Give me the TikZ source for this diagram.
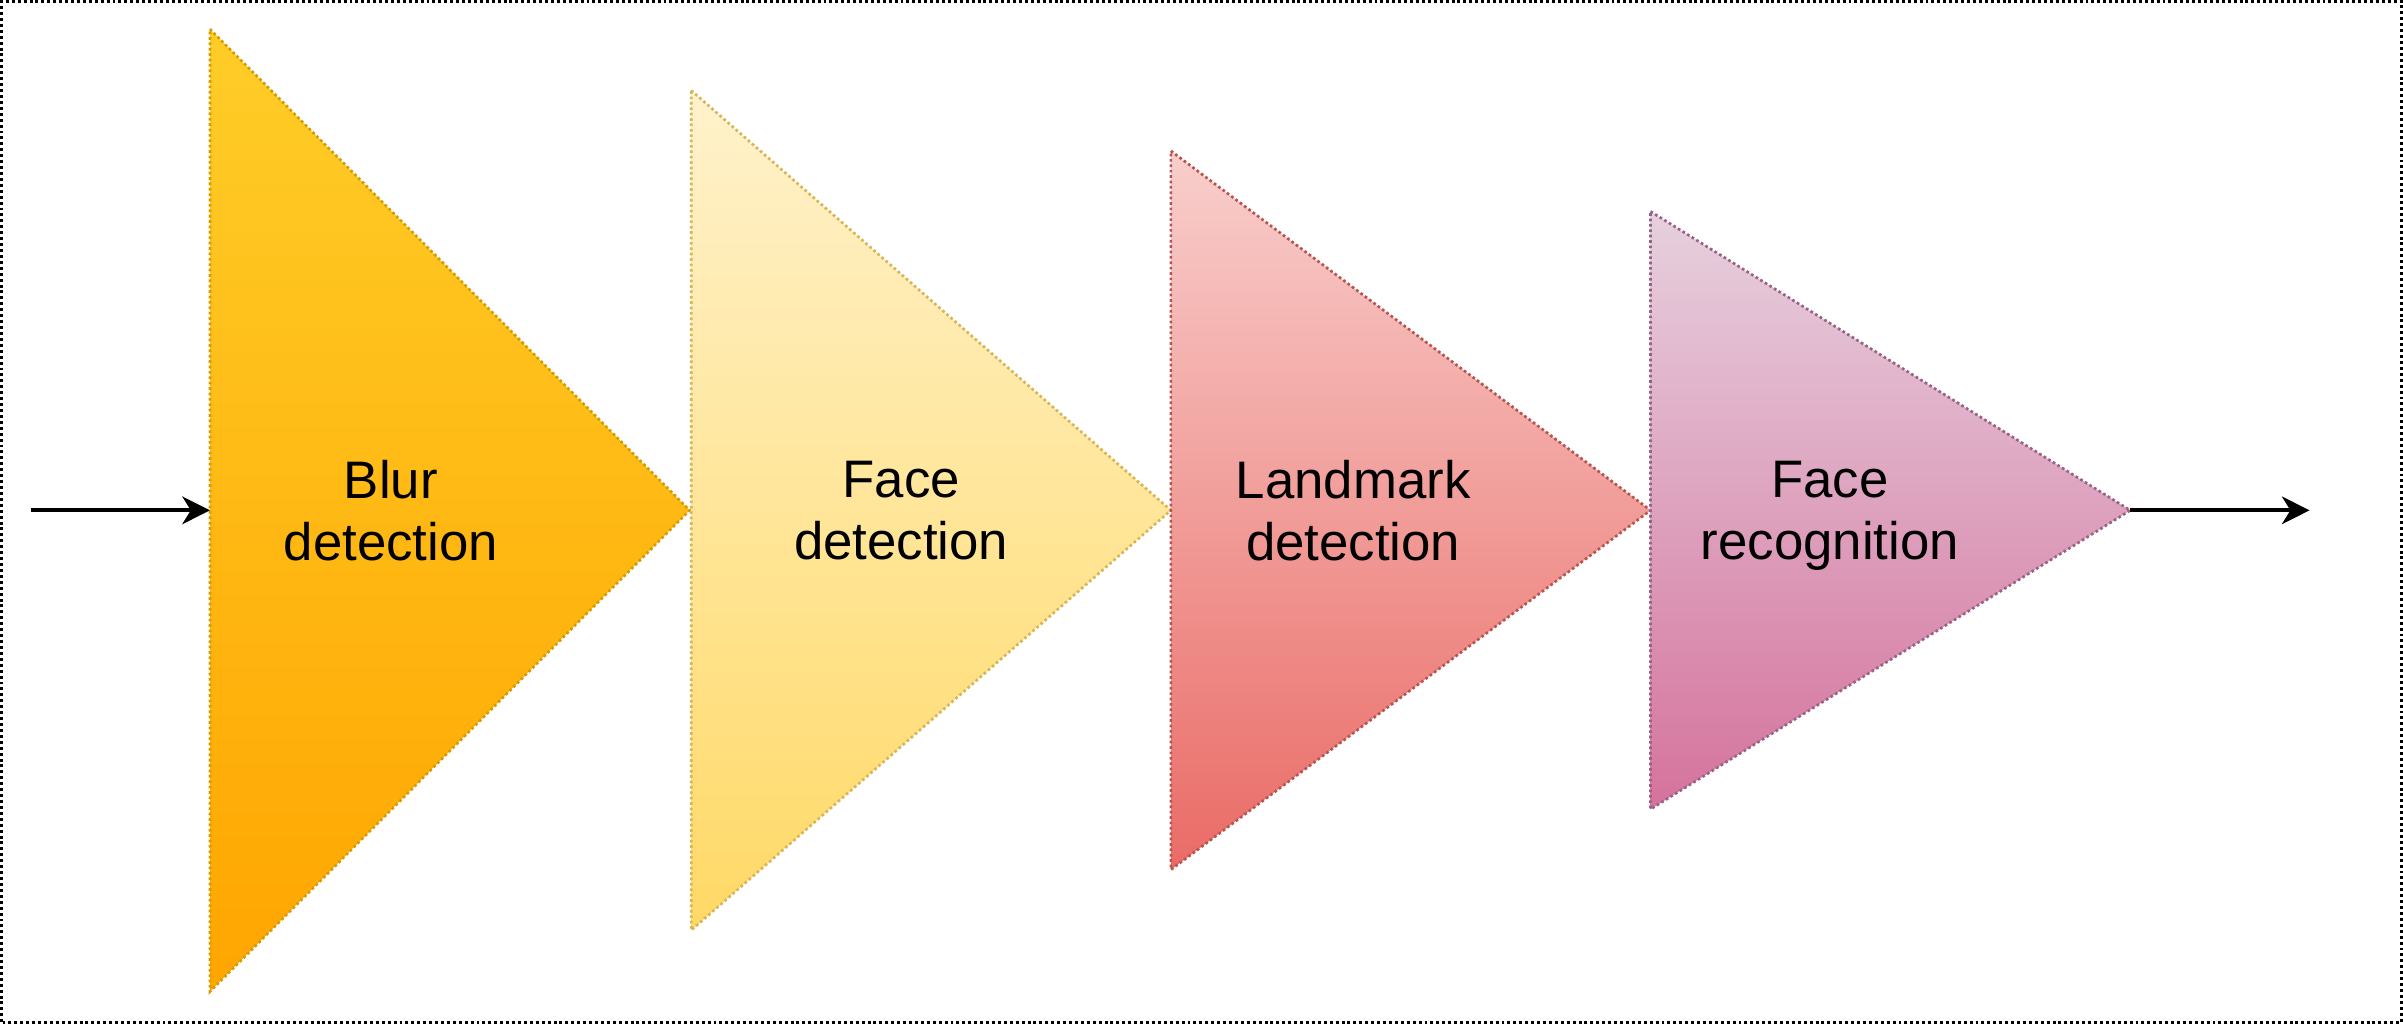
\documentclass[tikz,border=0pt]{standalone}
\usepackage{fontspec}
\setmainfont{Liberation Sans}
\usetikzlibrary{arrows.meta}

\definecolor{blurtop}{HTML}{FFCD28}
\definecolor{blurbot}{HTML}{FFA500}
\definecolor{blurline}{HTML}{D79B00}
\definecolor{facetop}{HTML}{FFF2CC}
\definecolor{facebot}{HTML}{FFD966}
\definecolor{faceline}{HTML}{D6B656}
\definecolor{landtop}{HTML}{F8CECC}
\definecolor{landbot}{HTML}{EA6B66}
\definecolor{landline}{HTML}{B85450}
\definecolor{recotop}{HTML}{E6D0DE}
\definecolor{recobot}{HTML}{D5739D}
\definecolor{recoline}{HTML}{996185}

\tikzset{
  stage/.style={line width=1pt, dash pattern=on 1pt off 1pt},
  stagelabel/.style={align=center, text depth=0pt, font=\fontsize{19.6}{22.8}\selectfont},
  flow/.style={line width=1.4pt, -{Stealth[length=3.6mm,width=3.6mm,inset=1.1mm]}}
}

\begin{document}
\begin{tikzpicture}

        \def\ymid{6.70}     % middle line of the pipeline
        \def\stagew{6.26}   % width of each stage
        \useasboundingbox (0,0) rectangle (31.36,13.36);
        \draw[line width=1.1pt, dash pattern=on 1.1pt off 1.1pt] (0.02,0.02) rectangle (31.34,13.34);

        % Stage 1: blur
        \coordinate (t1l) at (2.74,\ymid);
        \path[stage, draw=blurline, top color=blurtop, bottom color=blurbot]
            (2.74,\ymid+6.28) -- (2.74+\stagew,\ymid) -- (2.74,\ymid-6.28) -- cycle;
        \node[stagelabel] (blur) at (5.10,\ymid) {Blur\\detection};

        % Stage 2: face detection
        \path[stage, draw=faceline, top color=facetop, bottom color=facebot]
            (9.02,\ymid+5.48) -- (9.02+\stagew,\ymid) -- (9.02,\ymid-5.48) -- cycle;
        \node[stagelabel] (face) at (11.76,\ymid) {Face\\detection};

        % Stage 3: landmarks
        \path[stage, draw=landline, top color=landtop, bottom color=landbot]
            (15.28,\ymid+4.69) -- (15.28+\stagew,\ymid) -- (15.28,\ymid-4.69) -- cycle;
        \node[stagelabel] (land) at (17.66,\ymid) {Landmark\\detection};

        % Stage 4: recognition
        \coordinate (t4r) at (21.54+\stagew,\ymid);
        \path[stage, draw=recoline, top color=recotop, bottom color=recobot]
            (21.54,\ymid+3.90) -- (t4r) -- (21.54,\ymid-3.90) -- cycle;
        \node[stagelabel] (reco) at (23.88,\ymid) {Face\\recognition};

        % Input and output arrows
        \coordinate (src) at (0.40,\ymid);
        \coordinate (sink) at (30.14,\ymid);
        \draw[flow] (src) -- (t1l);
        \draw[flow] (t4r) -- (sink);

\end{tikzpicture}
\end{document}
